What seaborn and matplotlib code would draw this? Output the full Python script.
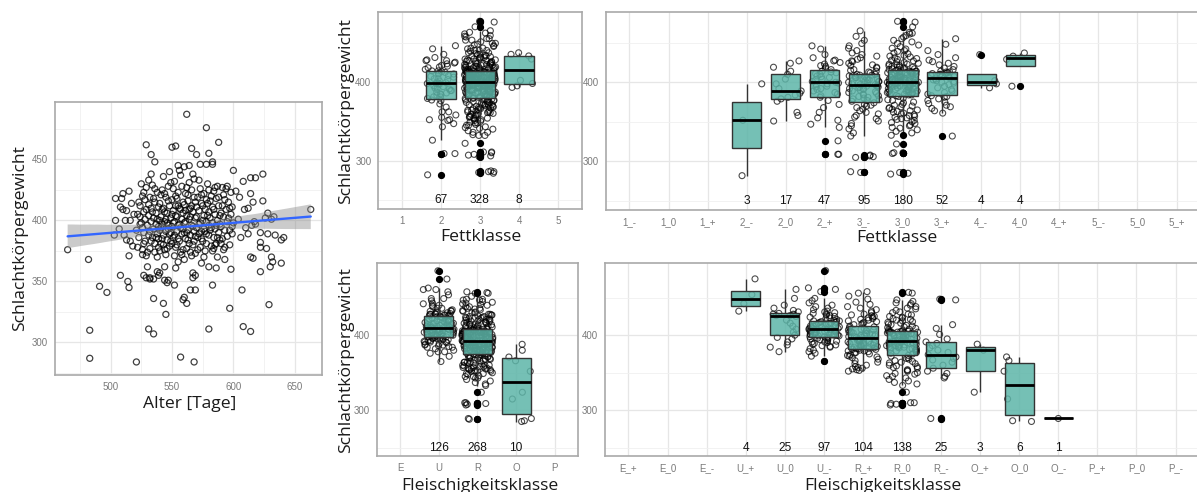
import numpy as np
import pandas as pd
import matplotlib
matplotlib.use("Agg")
import matplotlib.pyplot as plt
from matplotlib.markers import MarkerStyle
from matplotlib.ticker import FixedLocator, NullLocator
from matplotlib.collections import PolyCollection
import seaborn as sns

# ------------------------------------------------------------------ data
# Scatter: Alter [Tage] vs. Schlachtkoerpergewicht
alter = [
    562, 578, 588, 529, 533, 536, 550, 553, 566, 570,
    580, 583, 583, 578, 573, 564, 555, 600, 560, 614,
    618, 624, 608, 602, 605, 614, 624, 616, 612, 609,
    628, 633, 631, 663, 626, 617, 618, 610, 612, 615,
    622, 628, 634, 639, 641, 622, 627, 614, 616, 622,
    631, 632, 639, 630, 622, 598, 607, 629, 597, 608,
    614, 580, 465, 482, 491, 497, 483, 483, 521, 508,
    514, 515, 515, 504, 504, 510, 509, 515, 517, 508,
    510, 513, 512, 516, 511, 513, 516, 525, 527, 528,
    524, 524, 527, 526, 526, 529, 530, 527, 529, 532,
    532, 535, 538, 540, 535, 539, 544, 546, 547, 543,
    545, 531, 535, 544, 552, 555, 553, 559, 560, 562,
    565, 569, 567, 567, 569, 560, 557, 568, 574, 580,
    586, 583, 587, 593, 584, 592, 585, 503, 507, 518,
    519, 604, 606,
    521, 522, 523, 524, 525, 526, 527, 528, 529, 522,
    526, 528, 529, 523, 527,
    530, 531, 531, 532, 532, 533, 533, 534, 534, 535,
    535, 536, 536, 537, 537, 538, 538, 539, 539, 540,
    530, 531, 532, 533, 534, 535, 536, 537, 538, 539,
    533, 536, 538, 531, 539,
    540, 540, 541, 541, 542, 542, 543, 543, 544, 544,
    545, 545, 546, 546, 547, 547, 548, 548, 549, 549,
    540, 541, 542, 543, 544, 545, 546, 547, 548, 549,
    541, 542, 543, 544, 545, 546, 547, 548, 549, 550,
    550, 550, 551, 551, 552, 552, 553, 553, 554, 554,
    555, 555, 556, 556, 557, 557, 558, 558, 559, 559,
    550, 551, 552, 553, 554, 555, 556, 557, 558, 559,
    551, 552, 553, 554, 555, 556, 557, 558, 559, 560,
    560, 560, 561, 561, 562, 562, 563, 563, 564, 564,
    565, 565, 566, 566, 567, 567, 568, 568, 569, 569,
    561, 562, 563, 564, 565, 566, 567, 568, 569, 570,
    561, 562, 563, 564, 565, 566, 567, 568, 569, 570,
    570, 571, 571, 572, 572, 573, 573, 574, 574, 575,
    575, 576, 576, 577, 577, 578, 578, 579, 579, 580,
    571, 572, 573, 574, 575, 576, 577, 578, 579, 580,
    572, 574, 576, 578, 580,
    580, 581, 581, 582, 582, 583, 583, 584, 584, 585,
    585, 586, 586, 587, 587, 588, 588, 589, 589, 590,
    581, 582, 583, 584, 585, 586, 587, 588, 589, 590,
    590, 591, 591, 592, 592, 593, 593, 594, 594, 595,
    595, 596, 596, 597, 597, 598, 598, 599, 599, 600,
    591, 593, 595, 597, 599,
]
gewicht = [
    487, 476, 464, 462, 454, 448, 460, 461, 459, 454,
    455, 448, 446, 446, 446, 445, 445, 441, 444, 435,
    435, 438, 432, 424, 419, 422, 416, 415, 410, 409,
    406, 403, 401, 409, 402, 399, 397, 394, 389, 396,
    390, 389, 388, 384, 386, 382, 377, 370, 369, 378,
    370, 366, 365, 362, 358, 360, 343, 331, 328, 313,
    309, 311, 376, 368, 346, 341, 310, 287, 284, 355,
    350, 345, 371, 400, 418, 422, 418, 424, 414, 411,
    409, 408, 400, 400, 388, 384, 383, 430, 423, 417,
    403, 397, 381, 376, 372, 371, 362, 355, 353, 352,
    353, 352, 358, 357, 336, 355, 351, 349, 351, 332,
    323, 311, 307, 362, 347, 366, 361, 335, 337, 332,
    343, 343, 353, 357, 355, 368, 288, 284, 365, 362,
    361, 347, 370, 368, 377, 376, 380, 388, 393, 379,
    405, 401, 386,
    392, 405, 386, 412, 398, 420, 390, 401, 409, 378,
    394, 383, 427, 415, 407,
    396, 404, 388, 419, 377, 410, 399, 386, 429, 402,
    393, 415, 381, 406, 397, 423, 389, 411, 378, 400,
    374, 433, 391, 383, 407, 418, 374, 386, 401, 395,
    438, 426, 370, 413, 385,
    392, 414, 381, 403, 397, 425, 388, 410, 376, 399,
    419, 391, 406, 384, 428, 396, 412, 379, 402, 390,
    375, 421, 385, 436, 407, 372, 398, 416, 389, 431,
    394, 409, 380, 422, 401, 377, 393, 440, 383, 405,
    395, 417, 386, 408, 399, 432, 378, 412, 391, 403,
    423, 385, 397, 410, 374, 437, 401, 389, 415, 393,
    381, 426, 371, 404, 418, 396, 383, 409, 428, 376,
    398, 388, 420, 380, 412, 441, 394, 372, 406, 390,
    413, 398, 385, 422, 404, 377, 416, 392, 431, 401,
    388, 410, 396, 425, 380, 407, 419, 391, 402, 373,
    399, 427, 384, 409, 374, 412, 438, 383, 415, 394,
    408, 390, 421, 381, 403, 371, 395, 434, 387, 411,
    403, 386, 419, 397, 408, 378, 426, 391, 414, 400,
    383, 422, 393, 409, 375, 417, 389, 404, 430, 396,
    376, 433, 398, 385, 412, 404, 391, 381, 414, 407,
    389, 421, 370, 399, 425,
    388, 402, 416, 394, 379, 411, 398, 424, 386, 405,
    393, 418, 381, 400, 428, 390, 412, 384, 397, 406,
    392, 420, 375, 409, 427, 396, 386, 419, 404, 381,
    395, 412, 385, 403, 421, 392, 378, 409, 426, 399,
    387, 415, 402, 380, 392, 423, 405, 389, 411, 398,
    427, 417, 428, 410, 395,
]

# Fettklasse (fine classes) - carcass weights
fett_fein_klassen = ["1_-", "1_0", "1_+", "2_-", "2_0", "2_+", "3_-", "3_0",
                     "3_+", "4_-", "4_0", "4_+", "5_-", "5_0", "5_+"]
fett_2m = [282, 352, 398]
fett_20 = [351, 358, 362, 376, 379, 381, 384, 386, 389, 392, 398, 404, 410,
           414, 419, 424, 427]
fett_2p = [309, 309, 326, 343, 347, 352, 355, 362, 368, 372, 377, 381,
           383, 385, 387, 389, 391, 392, 394, 395, 397, 398, 399, 400,
           401, 403, 404, 406, 407, 408, 410, 411, 412, 413, 414,
           416, 418, 420, 421, 423, 425, 427, 428, 431, 435, 442, 446]
fett_3m = [286, 287, 305, 306, 307, 308, 332, 336, 341, 345, 348, 351, 354,
           356, 358, 360, 362, 364, 366, 368, 370, 371, 372, 374,
           376, 377, 378, 379, 380, 381, 382, 383, 384, 385, 386, 387, 388,
           389, 390, 391, 392, 392, 393, 394, 394, 395, 395, 396,
           397, 397, 398, 399, 399, 400, 401, 401, 402, 403, 403, 404, 405,
           405, 406, 406, 407, 408, 408, 409, 409, 410, 410,
           412, 413, 414, 415, 416, 418, 419, 421, 422, 424, 426, 427, 429,
           431, 433, 435, 437, 440, 443, 446, 449, 453, 458, 465]
fett_30 = [284, 285, 286, 310, 311, 311, 322, 333, 336, 338, 340, 342, 343,
           345, 346, 348, 349, 350, 352, 353, 354, 355, 356, 357, 358, 359,
           360, 361, 362, 363, 364, 365, 366, 367, 368, 369, 370, 371, 372,
           374, 375, 377, 378, 380, 382,
           383, 384, 384, 385, 385, 386, 386, 387, 387, 388, 388, 389, 389,
           390, 390, 391, 391, 392, 392, 393, 393, 394, 394, 394, 395, 395,
           395, 396, 396, 396, 397, 397, 397, 398, 398, 398, 398, 399, 399,
           399, 399, 399, 400, 400, 400,
           400, 400, 401, 401, 401, 402, 402, 402, 403, 403, 403, 404, 404,
           404, 405, 405, 405, 406, 406, 406, 407, 407, 407, 408, 408, 408,
           409, 409, 409, 410, 410, 410, 411, 411, 411, 412, 412, 412, 413,
           413, 413, 414, 414, 414, 415,
           416, 416, 417, 417, 418, 418, 419, 419, 420, 421, 421, 422, 423,
           423, 424, 425, 426, 427, 428, 429, 430, 431, 432, 433, 434, 436,
           437, 439, 440, 442, 443, 445, 447, 449, 451, 453, 455, 457, 459,
           461, 462, 463, 470, 476, 477]
fett_3p = [332, 361, 364, 367, 369, 371, 373, 375, 377, 379, 381, 382, 383,
           385, 387, 389, 391, 393, 395, 397, 399, 400, 401, 402, 403, 404,
           406, 407, 407, 408, 409, 409, 410, 410, 411, 411, 412, 413, 413,
           414, 416, 418, 420, 422, 424, 426, 428, 431, 435, 440, 448, 455]
fett_4m = [393, 398, 402, 435]
fett_40 = [395, 429, 433, 437]

# counts printed in the panels
fett_grob_klassen = ["1", "2", "3", "4", "5"]
fett_grob_n_klassen = ["2", "3", "4"]
fett_grob_n = [67, 328, 8]
fett_fein_n_klassen = ["2_-", "2_0", "2_+", "3_-", "3_0", "3_+", "4_-", "4_0"]
fett_fein_n = [3, 17, 47, 95, 180, 52, 4, 4]

# Fleischigkeitsklasse (fine classes) - carcass weights
fleisch_fein_klassen = ["E_+", "E_0", "E_-", "U_+", "U_0", "U_-", "R_+", "R_0",
                        "R_-", "O_+", "O_0", "O_-", "P_+", "P_0", "P_-"]
fleisch_Up = [432, 442, 454, 475]
fleisch_U0 = [378, 384, 387, 391, 395, 397, 400, 404, 408, 412, 416, 420, 425,
              426, 426, 427, 428, 428, 429, 431, 433, 436, 440, 449, 461]
fleisch_Um = [365, 372, 376, 378, 380, 382, 384, 385, 386, 387, 388, 389, 390,
              391, 391, 392, 393, 393, 394, 395, 395, 396, 396, 397, 398,
              398, 399, 399, 400, 400, 401, 401, 402, 402, 403, 403, 404, 404,
              405, 405, 405, 406, 406, 406, 407, 407, 407, 408, 408,
              408, 409, 409, 409, 410, 410, 411, 411, 412, 412, 413, 413, 414,
              414, 415, 415, 416, 416, 417, 417, 418, 418, 419, 419,
              420, 421, 422, 423, 424, 425, 426, 427, 428, 429, 430, 431, 432,
              434, 436, 438, 440, 443, 446, 449, 458, 461, 463, 486]
fleisch_Rp = [352, 353, 354, 355, 356, 357, 358, 360, 362, 364, 366, 368, 370,
              371, 372, 373, 374, 375, 376, 377, 378, 379, 379, 380, 381, 381,
              382, 382, 383, 383, 384, 384, 385, 385, 386, 386, 387, 387, 388,
              388, 389, 389, 390, 390, 391, 391, 392, 392, 393, 393, 394, 395,
              397, 397, 398, 398, 399, 399, 400, 400, 401, 401, 402, 402, 403,
              403, 404, 404, 405, 406, 406, 407, 407, 408, 409, 410, 411, 412,
              414, 415, 416, 417, 418, 419, 420, 421, 422, 423, 424, 425, 426,
              427, 428, 430, 432, 434, 436, 438, 441, 444, 448, 452, 456, 458]
fleisch_R0 = [307, 308, 309, 310, 310, 324, 333, 335, 337, 339, 341, 343, 345,
              346, 348, 349, 350, 352, 353, 354, 356, 357, 358, 359, 360, 362,
              363, 364, 365, 366, 368, 369, 370, 372, 373,
              375, 376, 377, 378, 379, 380, 380, 381, 381, 382, 382, 383, 383,
              384, 384, 385, 385, 386, 386, 387, 387, 388, 388, 389, 389, 390,
              390, 390, 391, 391, 391, 392, 392, 392,
              392, 393, 393, 394, 394, 395, 395, 396, 396, 397, 397, 398, 398,
              399, 399, 400, 400, 401, 401, 402, 402, 402, 403, 403, 403, 404,
              404, 404, 404, 405, 405, 405, 405, 405,
              406, 407, 408, 409, 410, 411, 412, 413, 414, 415, 416, 417, 418,
              419, 420, 421, 422, 423, 424, 425, 427, 428, 430, 431, 433, 435,
              436, 438, 440, 442, 443, 445, 447, 456, 457]
fleisch_Rm = [288, 289, 343, 345, 349, 352, 356, 360, 364, 367, 369, 371, 374,
              377, 380, 383, 386, 389, 391, 395, 401, 409, 414, 447, 448]
fleisch_Op = [324, 380, 388]
fleisch_O0 = [285, 286, 315, 352, 366, 371]
fleisch_Om = [289]

fleisch_grob_klassen = ["E", "U", "R", "O", "P"]
fleisch_grob_n_klassen = ["U", "R", "O"]
fleisch_grob_n = [126, 268, 10]
fleisch_fein_n_klassen = ["U_+", "U_0", "U_-", "R_+", "R_0", "R_-", "O_+", "O_0", "O_-"]
fleisch_fein_n = [4, 25, 97, 104, 138, 25, 3, 6, 1]

# ------------------------------------------------------------------ style
sns.set_style("white")
plt.rcParams["font.family"] = ["Liberation Sans", "DejaVu Sans"]
TITLE_FONT = ["Open Sans", "DejaVu Sans"]
TITLE_SIZE = 12.6
BORDER = "#a9a9a9"
BOX_FILL = (0.363, 0.709, 0.659, 0.85)
RING = MarkerStyle("o", fillstyle="none")

W, H = 1197, 492
fig = plt.figure(figsize=(W / 100, H / 100), dpi=100)


def add_ax(l, t, r, b):
    return fig.add_axes([l / W, 1 - b / H, (r - l) / W, (b - t) / H])


def style_axes(ax):
    for s in ax.spines.values():
        s.set_color(BORDER)
        s.set_linewidth(1.2)
    ax.tick_params(axis="both", which="major", length=3, width=0.8,
                   color="#8c8c8c", labelsize=7, labelcolor="#7a7a7a", pad=2)
    ax.tick_params(which="minor", length=0)
    ax.grid(True, which="major", color="#e6e6e6", lw=0.9)
    ax.grid(True, which="minor", color="#f0f0f0", lw=0.6)
    ax.set_axisbelow(True)
    ax.set_xlabel("")
    ax.set_ylabel("")


def fig_label(x, y, s, rot=0):
    fig.text(x / W, 1 - y / H, s, ha="center", va="center", rotation=rot,
             fontsize=TITLE_SIZE, family=TITLE_FONT, color="#1a1a1a")


def box_panel(ax, order, gruppen, werte, n_klassen, n_werte, ylim):
    df = pd.DataFrame({
        "klasse": np.repeat(gruppen, [len(w) for w in werte]),
        "gewicht": np.concatenate([np.asarray(w, float) for w in werte]),
    })
    sns.stripplot(data=df, x="klasse", y="gewicht", order=order, jitter=0.4,
                  marker=RING, color="black", edgecolor="black", alpha=0.7,
                  size=4.3, linewidth=0.8, ax=ax, zorder=2)
    sns.boxplot(data=df, x="klasse", y="gewicht", order=order, width=0.75,
                showcaps=False, color=BOX_FILL[:3],
                boxprops=dict(facecolor=BOX_FILL, edgecolor="#333333",
                              linewidth=1.0, zorder=3),
                whiskerprops=dict(color="#333333", linewidth=1.0, zorder=3),
                medianprops=dict(color="black", linewidth=2.0, zorder=4),
                flierprops=dict(marker="o", markerfacecolor="black",
                                markeredgecolor="black", markersize=4.2,
                                zorder=4),
                ax=ax)
    for k, n in zip(n_klassen, n_werte):
        ax.text(order.index(k), 250, str(n), ha="center", va="center",
                fontsize=8.6, color="#111111")
    ax.set_xlim(-0.6, len(order) - 0.4)
    ax.set_ylim(*ylim)
    ax.yaxis.set_major_locator(FixedLocator([300, 400]))
    ax.yaxis.set_minor_locator(FixedLocator([250, 350, 450]))
    ax.xaxis.set_minor_locator(NullLocator())
    style_axes(ax)


np.random.seed(7)  # reproducible jitter only

# ---------------- panel A: scatter with regression
axA = add_ax(54.5, 101.6, 321.8, 374.9)
sns.regplot(x=np.array(alter, float), y=np.array(gewicht, float), ax=axA,
            ci=95, seed=1, color="#555555", marker=RING,
            scatter_kws=dict(s=19, linewidths=0.9, color="black", alpha=0.75),
            line_kws=dict(color="#3366FF", linewidth=1.7, zorder=5))
for coll in axA.collections:
    if isinstance(coll, PolyCollection):
        coll.set_alpha(0.45)
        coll.set_facecolor((0.55, 0.55, 0.55))
        coll.set_edgecolor("none")
axA.set_xlim(454.3, 672)
axA.set_ylim(273.4, 497.4)
axA.xaxis.set_major_locator(FixedLocator([500, 550, 600, 650]))
axA.xaxis.set_minor_locator(FixedLocator([475, 525, 575, 625]))
axA.yaxis.set_major_locator(FixedLocator([300, 350, 400, 450]))
axA.yaxis.set_minor_locator(FixedLocator([275, 325, 375, 425, 475]))
style_axes(axA)
fig_label(20, 238, "Schlachtkörpergewicht", 90)
fig_label(190, 404, "Alter [Tage]")

# ---------------- panel B: Fettklasse (coarse)
axB = add_ax(378.3, 12.3, 581.7, 209)
box_panel(axB, fett_grob_klassen, ["2", "3", "4"],
          [fett_2m + fett_20 + fett_2p, fett_3m + fett_30 + fett_3p,
           fett_4m + fett_40],
          fett_grob_n_klassen, fett_grob_n, (238.6, 488.4))
fig_label(346, 111, "Schlachtkörpergewicht", 90)
fig_label(481, 237, "Fettklasse")

# ---------------- panel C: Fettklasse (fine)
axC = add_ax(606, 12.3, 1200, 210)
box_panel(axC, fett_fein_klassen,
          ["2_-", "2_0", "2_+", "3_-", "3_0", "3_+", "4_-", "4_0"],
          [fett_2m, fett_20, fett_2p, fett_3m, fett_30, fett_3p, fett_4m, fett_40],
          fett_fein_n_klassen, fett_fein_n, (238.6, 488.4))
fig_label(897, 238, "Fettklasse")

# ---------------- panel D: Fleischigkeitsklasse (coarse)
axD = add_ax(376.8, 262.7, 578, 456)
box_panel(axD, fleisch_grob_klassen, ["U", "R", "O"],
          [fleisch_Up + fleisch_U0 + fleisch_Um,
           fleisch_Rp + fleisch_R0 + fleisch_Rm,
           fleisch_Op + fleisch_O0 + fleisch_Om],
          fleisch_grob_n_klassen, fleisch_grob_n, (239, 496.8))
fig_label(346, 360, "Schlachtkörpergewicht", 90)
fig_label(480, 486, "Fleischigkeitsklasse")

# ---------------- panel E: Fleischigkeitsklasse (fine)
axE = add_ax(605, 262.5, 1199, 456)
box_panel(axE, fleisch_fein_klassen,
          ["U_+", "U_0", "U_-", "R_+", "R_0", "R_-", "O_+", "O_0", "O_-"],
          [fleisch_Up, fleisch_U0, fleisch_Um, fleisch_Rp, fleisch_R0,
           fleisch_Rm, fleisch_Op, fleisch_O0, fleisch_Om],
          fleisch_fein_n_klassen, fleisch_fein_n, (239, 496.8))
fig_label(883, 486, "Fleischigkeitsklasse")

fig.savefig("out.png", dpi=100)
